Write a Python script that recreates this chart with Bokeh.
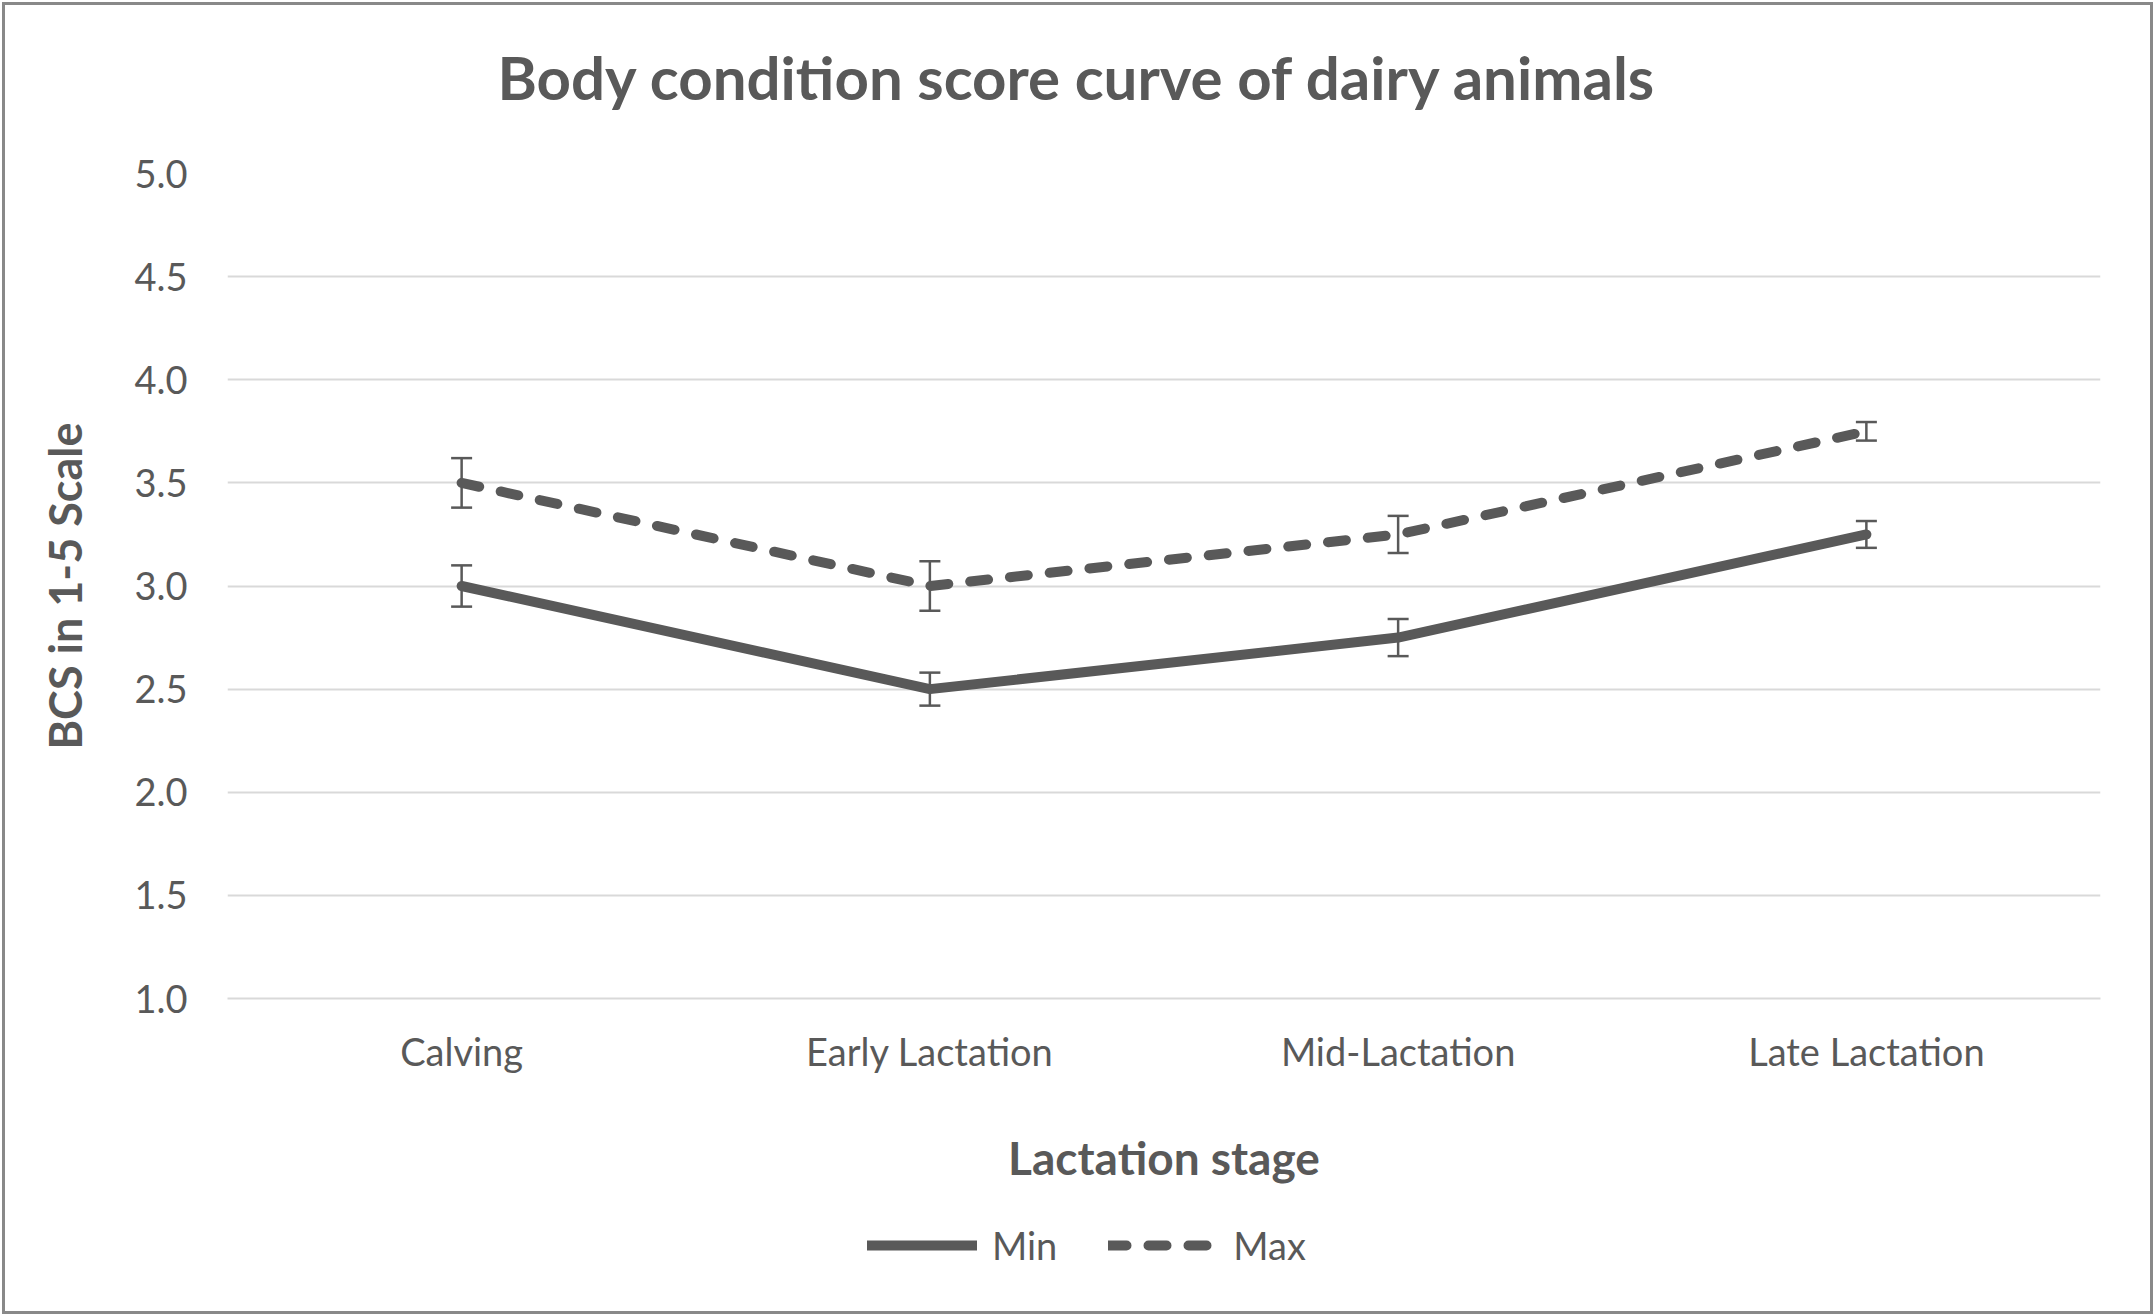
from bokeh.plotting import figure
from bokeh.layouts import column
from bokeh.models import (ColumnDataSource, Whisker, TeeHead, FixedTicker,
                          Legend, LegendItem, Range1d, FactorRange)
from bokeh.embed import file_html
from bokeh.resources import INLINE

# ---- data ----
stages = ["Calving", "Early Lactation", "Mid-Lactation", "Late Lactation"]
min_bcs = [3.0, 2.5, 2.75, 3.25]
min_err = [0.10, 0.08, 0.09, 0.065]
max_bcs = [3.5, 3.0, 3.25, 3.75]
max_err = [0.12, 0.12, 0.09, 0.045]
y_ticks = [1.0, 1.5, 2.0, 2.5, 3.0, 3.5, 4.0, 4.5, 5.0]
y_tick_labels = ["1.0", "1.5", "2.0", "2.5", "3.0", "3.5", "4.0", "4.5", "5.0"]
series_names = ["Min", "Max"]
title_text = "Body condition score curve of dairy animals"

TEXT = "#595959"
LINE = "#595959"
GRID = "#d9d9d9"
FONT = "Lato"
LW = 10
DASH = "18 22"


def blank(fig):
    fig.outline_line_color = None
    fig.background_fill_color = None
    fig.border_fill_color = None
    fig.xgrid.visible = False
    fig.ygrid.visible = False


# ---- title strip ----
p0 = figure(width=2155, height=140, output_backend="svg", toolbar_location=None,
            x_range=Range1d(0, 1), y_range=Range1d(0, 1),
            x_axis_type=None, y_axis_type=None,
            min_border_left=0, min_border_right=0,
            min_border_top=0, min_border_bottom=0,
            title=title_text, title_location="below")
blank(p0)
p0.title.text_font = FONT
p0.title.text_font_style = "bold"
p0.title.text_font_size = "60px"
p0.title.text_color = TEXT
p0.title.align = "left"
p0.title.offset = 270
p0.title.standoff = 56

# ---- main chart ----
src_min = ColumnDataSource(dict(
    x=stages, y=min_bcs,
    upper=[v + e for v, e in zip(min_bcs, min_err)],
    lower=[v - e for v, e in zip(min_bcs, min_err)]))
src_max = ColumnDataSource(dict(
    x=stages, y=max_bcs,
    upper=[v + e for v, e in zip(max_bcs, max_err)],
    lower=[v - e for v, e in zip(max_bcs, max_err)]))

p = figure(width=2155, height=1056, output_backend="svg", toolbar_location=None,
           x_range=FactorRange(*stages, range_padding=0),
           y_range=Range1d(1.0, 5.0),
           min_border_left=227, min_border_right=55,
           min_border_top=33, min_border_bottom=198)
p.outline_line_color = None
p.background_fill_color = "white"
p.border_fill_color = None

p.xgrid.grid_line_color = None
p.ygrid.grid_line_color = GRID
p.ygrid.grid_line_width = 2
p.ygrid.ticker = FixedTicker(ticks=y_ticks)

p.yaxis.ticker = FixedTicker(ticks=y_ticks)
p.yaxis.major_label_overrides = {t: l for t, l in zip(y_ticks, y_tick_labels)}
for ax in (p.xaxis[0], p.yaxis[0]):
    ax.major_tick_line_color = None
    ax.minor_tick_line_color = None
    ax.major_label_text_font = FONT
    ax.major_label_text_font_size = "38px"
    ax.major_label_text_color = TEXT
    ax.axis_label_text_font = FONT
    ax.axis_label_text_font_style = "bold"
    ax.axis_label_text_color = TEXT
p.xaxis.axis_label_text_font_size = "46px"
p.yaxis.axis_label_text_font_size = "45px"
p.yaxis.axis_line_color = None
p.xaxis.axis_line_color = GRID
p.xaxis.axis_line_width = 2
p.xaxis.axis_label = "Lactation stage"
p.yaxis.axis_label = "BCS in 1-5 Scale"
p.yaxis.major_label_standoff = 34
p.xaxis.major_label_standoff = 23
p.xaxis.axis_label_standoff = 53
p.yaxis.axis_label_standoff = 39

p.line("x", "y", source=src_min, line_color=LINE, line_width=LW,
       line_cap="round", line_join="round")
p.line("x", "y", source=src_max, line_color=LINE, line_width=LW,
       line_cap="round", line_join="round", line_dash=DASH)

for src in (src_min, src_max):
    w = Whisker(source=src, base="x", upper="upper", lower="lower",
                line_color=LINE, line_width=2.5,
                upper_head=TeeHead(size=21, line_color=LINE, line_width=2.5),
                lower_head=TeeHead(size=21, line_color=LINE, line_width=2.5))
    p.add_layout(w)

# ---- legend strip ----
p2 = figure(width=2155, height=120, output_backend="svg", toolbar_location=None,
            x_range=Range1d(0, 1), y_range=Range1d(0, 1),
            x_axis_type=None, y_axis_type=None,
            min_border_left=0, min_border_right=0,
            min_border_top=0, min_border_bottom=0)
blank(p2)
# legend-key renderers: their points lie outside the strip's visible range
k_min = p2.line(x=[2, 3], y=[2, 3], line_color=LINE, line_width=LW,
                line_cap="round")
k_max = p2.line(x=[2, 3], y=[2, 3], line_color=LINE, line_width=LW,
                line_cap="round", line_dash=DASH)
legend = Legend(items=[LegendItem(label=series_names[0], renderers=[k_min]),
                       LegendItem(label=series_names[1], renderers=[k_max])],
                orientation="horizontal", location=(640, 48),
                glyph_width=110, glyph_height=40, label_standoff=15,
                spacing=51, padding=0, margin=0,
                label_text_font=FONT, label_text_font_size="38px",
                label_text_color=TEXT, border_line_color=None,
                background_fill_alpha=0)
p2.add_layout(legend)

layout = column(p0, p, p2, spacing=0)
layout.styles = {"background-color": "white",
                 "box-shadow": "inset 0 0 0 2px white, inset 0 0 0 5px #898989"}

open("out.html", "w").write(file_html(layout, INLINE))
